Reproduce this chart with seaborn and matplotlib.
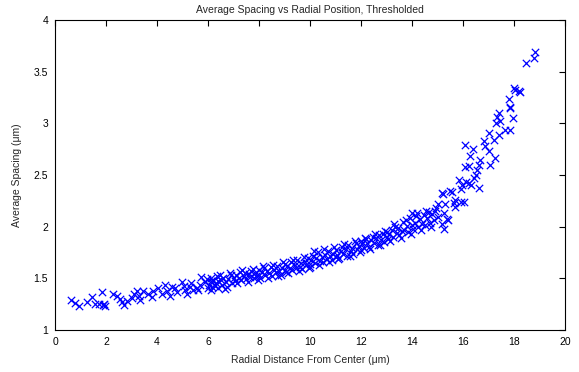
import matplotlib
matplotlib.use("Agg")
import matplotlib.pyplot as plt
import seaborn as sns
import pandas as pd

# Low region (0.5 - 6.5 um)
x_low = [0.64, 0.79, 0.95, 1.25, 1.47, 1.55, 1.71, 1.86, 1.90, 1.96, 1.93,
         2.29, 2.42, 2.55, 2.64, 2.72, 2.81, 3.00, 3.10, 3.20, 3.29, 3.33,
         3.46, 3.66, 3.79, 3.85, 4.05, 4.18, 4.31, 4.41, 4.50, 4.57, 4.70,
         4.80, 4.96, 5.05, 5.09, 5.16, 5.29, 5.35, 5.42, 5.55, 5.60, 5.68,
         5.74, 5.87, 5.95, 6.00, 6.13, 6.26, 6.39]
y_low = [1.29, 1.26, 1.23, 1.27, 1.32, 1.25, 1.25, 1.37, 1.24, 1.23, 1.25,
         1.35, 1.33, 1.30, 1.27, 1.24, 1.28, 1.31, 1.35, 1.38, 1.33, 1.29,
         1.38, 1.35, 1.32, 1.38, 1.41, 1.35, 1.44, 1.38, 1.33, 1.42, 1.41,
         1.37, 1.46, 1.43, 1.39, 1.35, 1.42, 1.45, 1.39, 1.41, 1.39, 1.44,
         1.51, 1.46, 1.49, 1.41, 1.47, 1.43, 1.47]

# Middle band (6 - 15 um)
x_mid = [6.05, 6.1, 6.15, 6.2, 6.3, 6.35, 6.4, 6.5, 6.55, 6.6, 6.7, 6.75, 6.8, 6.9, 6.95, 7.0,
         7.05, 7.1, 7.2, 7.25, 7.3, 7.4, 7.45, 7.5, 7.6, 7.65, 7.7, 7.8, 7.85, 7.9, 8.0, 8.0,
         8.05, 8.1, 8.2, 8.25, 8.3, 8.4, 8.45, 8.5, 8.6, 8.65, 8.7, 8.8, 8.85, 8.9, 9.0, 9.0,
         9.05, 9.1, 9.2, 9.25, 9.3, 9.4, 9.45, 9.5, 9.6, 9.65, 9.7, 9.8, 9.85, 9.9, 10.0, 10.0,
         10.05, 10.1, 10.2, 10.25, 10.3, 10.4, 10.45, 10.5, 10.6, 10.65, 10.7, 10.8, 10.85, 10.9, 11.0, 11.0,
         11.05, 11.1, 11.2, 11.25, 11.3, 11.4, 11.45, 11.5, 11.6, 11.65, 11.7, 11.8, 11.85, 11.9, 12.0, 12.0,
         12.05, 12.1, 12.2, 12.25, 12.3, 12.4, 12.45, 12.5, 12.6, 12.65, 12.7, 12.8, 12.85, 12.9, 13.0, 13.0,
         13.05, 13.1, 13.2, 13.25, 13.3, 13.4, 13.45, 13.5, 13.6, 13.65, 13.7, 13.8, 13.85, 13.9, 14.0, 14.0,
         14.05, 14.1, 14.2, 14.25, 14.3, 14.4, 14.45, 14.5, 14.6, 14.65, 14.7, 14.8, 14.85, 14.9, 15.0, 15.0]
y_mid = [1.44, 1.50, 1.42, 1.47, 1.45, 1.52, 1.41, 1.48, 1.44, 1.50, 1.46, 1.42, 1.49, 1.53, 1.45, 1.50,
         1.47, 1.53, 1.50, 1.56, 1.48, 1.52, 1.55, 1.49, 1.54, 1.51, 1.57, 1.50, 1.55, 1.52, 1.58, 1.53,
         1.50, 1.56, 1.60, 1.53, 1.57, 1.55, 1.61, 1.52, 1.58, 1.56, 1.62, 1.57, 1.53, 1.60, 1.58, 1.64,
         1.56, 1.62, 1.60, 1.66, 1.58, 1.63, 1.60, 1.68, 1.61, 1.65, 1.59, 1.66, 1.63, 1.70, 1.64, 1.61,
         1.68, 1.72, 1.65, 1.70, 1.75, 1.67, 1.71, 1.66, 1.73, 1.69, 1.76, 1.72, 1.68, 1.74, 1.71, 1.77,
         1.73, 1.69, 1.76, 1.80, 1.74, 1.78, 1.72, 1.82, 1.76, 1.79, 1.74, 1.84, 1.78, 1.81, 1.77, 1.86,
         1.83, 1.79, 1.88, 1.84, 1.80, 1.87, 1.90, 1.84, 1.89, 1.82, 1.92, 1.87, 1.93, 1.85, 1.90, 1.95,
         1.88, 1.93, 1.97, 1.90, 2.03, 1.94, 1.99, 1.92, 1.96, 2.05, 1.97, 2.01, 1.95, 2.08, 2.02, 2.13,
         1.98, 2.04, 2.13, 2.00, 2.07, 2.03, 2.11, 2.02, 2.08, 2.14, 2.04, 2.12, 2.06, 2.15, 2.09, 2.22]

# Extra band points off the band centre (6 - 15 um)
x_edge = [6.12, 6.45, 6.65, 6.85, 7.15, 7.35, 7.55, 7.75, 7.95, 8.15, 8.35, 8.55, 8.75, 8.95,
          9.15, 9.35, 9.55, 9.75, 9.95, 10.15, 10.35, 10.55, 10.75, 10.95, 11.15, 11.35, 11.55,
          11.75, 11.95, 12.15, 12.35, 12.55, 12.75, 12.95, 13.15, 13.35, 13.55, 13.75, 13.95,
          14.15, 14.35, 14.55, 14.75, 14.95]
y_edge = [1.39, 1.53, 1.40, 1.55, 1.45, 1.58, 1.46, 1.59, 1.48, 1.62, 1.50, 1.63, 1.52, 1.66,
          1.55, 1.68, 1.57, 1.71, 1.60, 1.76, 1.63, 1.78, 1.66, 1.80, 1.70, 1.83, 1.72,
          1.86, 1.75, 1.89, 1.78, 1.93, 1.82, 1.96, 1.86, 2.00, 1.89, 2.06, 1.93,
          2.10, 1.97, 2.15, 2.00, 2.18]

# Upper tail (15 - 19 um)
x_high = [15.18, 15.24, 15.24, 15.31, 15.37, 15.18, 15.2, 15.4, 15.5, 15.57, 15.64, 15.7, 15.7,
          15.84, 15.9, 15.9, 15.97, 16.03, 16.06, 16.06, 16.1, 16.23, 16.23, 16.29, 16.3, 16.38,
          16.42, 16.49, 16.55, 16.62, 16.62, 16.68, 16.81, 16.87, 17.0, 17.0, 17.04, 17.2, 17.26,
          17.3, 17.34, 17.4, 17.4, 17.46, 17.65, 17.79, 17.83, 17.85, 17.85, 17.96, 18.0, 18.05,
          18.19, 18.25, 18.48, 18.77, 18.83]
y_high = [2.03, 1.98, 2.13, 2.22, 2.07, 2.33, 2.32, 2.06, 2.35, 2.34, 2.23, 2.26, 2.19,
          2.45, 2.36, 2.24, 2.40, 2.24, 2.79, 2.58, 2.43, 2.42, 2.59, 2.68, 2.40, 2.75,
          2.47, 2.50, 2.55, 2.60, 2.37, 2.65, 2.83, 2.78, 2.91, 2.73, 2.60, 2.84, 2.66,
          3.00, 3.06, 3.10, 2.89, 3.02, 2.94, 3.24, 3.15, 3.16, 2.94, 3.05, 3.34, 3.32,
          3.31, 3.30, 3.58, 3.63, 3.69]

df = pd.DataFrame({
    "x": x_low + x_mid + x_edge + x_high,
    "y": y_low + y_mid + y_edge + y_high,
})

sns.set_style("white")
plt.rcParams["font.family"] = ["Liberation Sans", "DejaVu Sans"]

fig = plt.figure(figsize=(5.79, 3.72), dpi=100)
ax = fig.add_axes([0.095, 0.113, 0.881, 0.833])

sns.scatterplot(data=df, x="x", y="y", marker="x", color="#0000ff",
                s=28, linewidth=0.9, ax=ax, legend=False)

ax.set_xlim(0, 20)
ax.set_ylim(1, 4)
ax.set_xticks(range(0, 21, 2))
ax.set_yticks([1, 1.5, 2, 2.5, 3, 3.5, 4])
ax.set_yticklabels(["1", "1.5", "2", "2.5", "3", "3.5", "4"])
ax.tick_params(direction="in", top=True, right=True, length=4, width=0.8,
               labelsize=7.5, colors="black", pad=5)
for sp in ax.spines.values():
    sp.set_visible(True)
    sp.set_color("black")
    sp.set_linewidth(0.8)

ax.set_title("Average Spacing vs Radial Position, Thresholded", fontsize=7.5, pad=5)
ax.set_xlabel("Radial Distance From Center (\u03bcm)", fontsize=7.5, labelpad=6)
ax.set_ylabel("Average Spacing (\u03bcm)", fontsize=7.5, labelpad=8)

fig.savefig("out.png", dpi=100)
